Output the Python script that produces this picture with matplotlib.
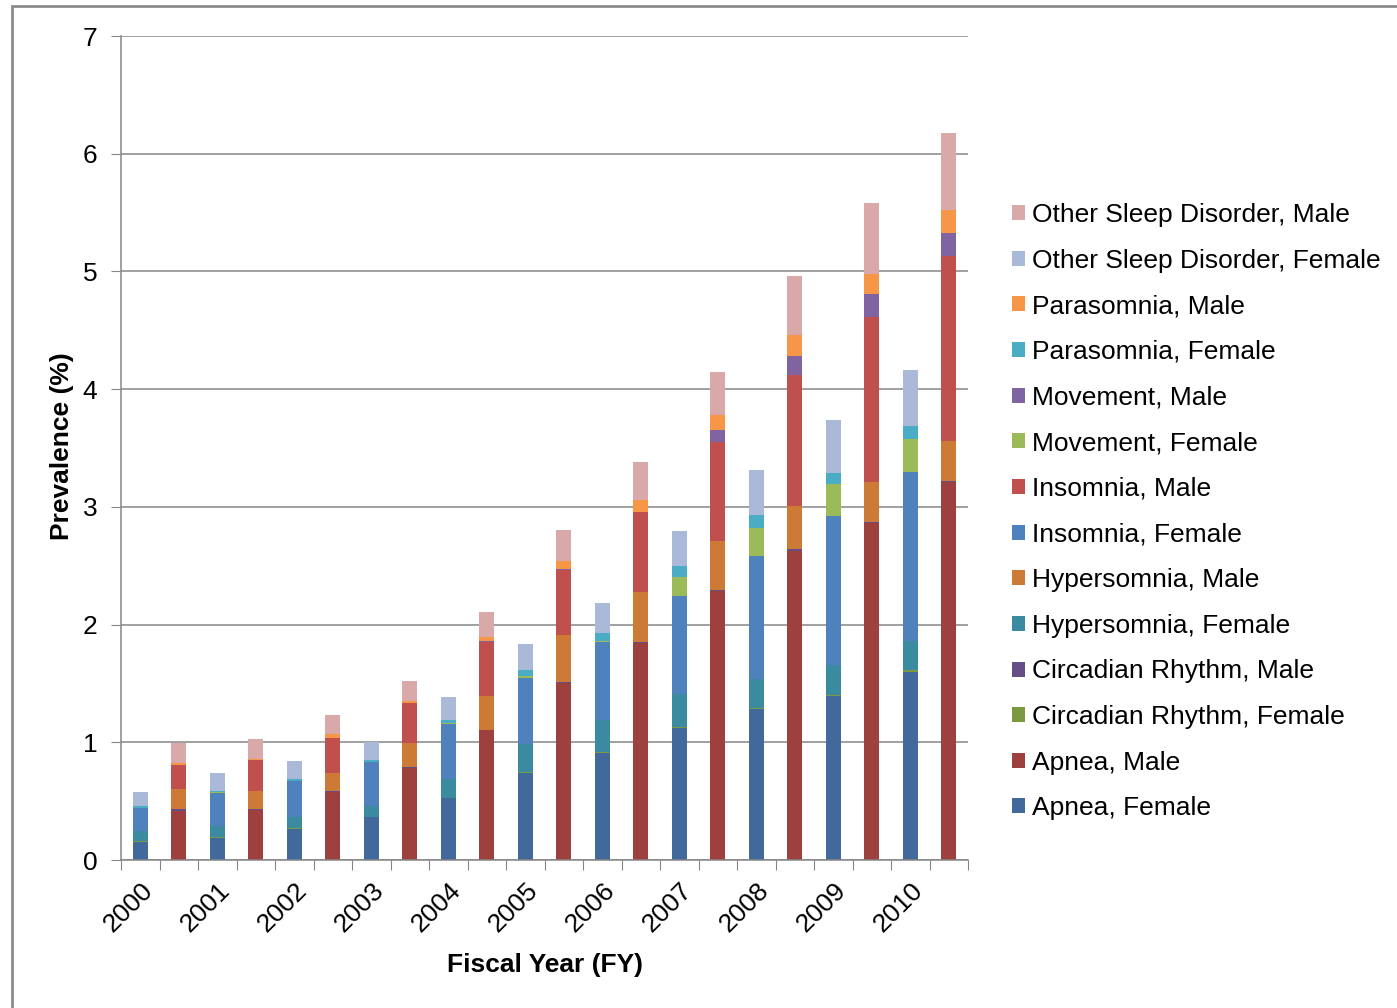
import matplotlib
matplotlib.use("Agg")
import matplotlib.pyplot as plt
import matplotlib.patches as mpatches
from matplotlib.ticker import FixedLocator, NullFormatter
import numpy as np

plt.rcParams['font.family'] = ['Liberation Sans', 'DejaVu Sans']

years = ["2000", "2001", "2002", "2003", "2004", "2005",
         "2006", "2007", "2008", "2009", "2010"]

# Prevalence (%) by fiscal year, female patients
apnea_f      = [0.156, 0.187, 0.266, 0.362, 0.524, 0.742, 0.906, 1.121, 1.280, 1.395, 1.600]
circadian_f  = [0.005, 0.010, 0.005, 0.005, 0.005, 0.005, 0.008, 0.008, 0.010, 0.010, 0.010]
hyper_f      = [0.083, 0.089, 0.091, 0.094, 0.156, 0.236, 0.273, 0.279, 0.248, 0.252, 0.251]
insomnia_f   = [0.195, 0.286, 0.309, 0.369, 0.473, 0.566, 0.665, 0.838, 1.046, 1.262, 1.431]
movement_f   = [0.005, 0.003, 0.003, 0.005, 0.005, 0.012, 0.011, 0.161, 0.237, 0.276, 0.281]
parasomnia_f = [0.015, 0.008, 0.011, 0.015, 0.026, 0.050, 0.068, 0.091, 0.111, 0.095, 0.113]
other_f      = [0.121, 0.153, 0.153, 0.153, 0.196, 0.221, 0.250, 0.300, 0.377, 0.445, 0.478]

# Prevalence (%) by fiscal year, male patients
apnea_m      = [0.416, 0.428, 0.580, 0.784, 1.102, 1.504, 1.841, 2.285, 2.629, 2.862, 3.207]
circadian_m  = [0.015, 0.005, 0.005, 0.005, 0.005, 0.008, 0.008, 0.008, 0.010, 0.010, 0.015]
hyper_m      = [0.169, 0.156, 0.157, 0.202, 0.286, 0.397, 0.428, 0.421, 0.368, 0.343, 0.339]
insomnia_m   = [0.207, 0.261, 0.292, 0.340, 0.459, 0.555, 0.677, 0.835, 1.112, 1.395, 1.572]
movement_m   = [0.003, 0.003, 0.003, 0.003, 0.005, 0.010, 0.006, 0.100, 0.162, 0.197, 0.197]
parasomnia_m = [0.017, 0.008, 0.031, 0.017, 0.035, 0.066, 0.101, 0.135, 0.176, 0.173, 0.188]
other_m      = [0.164, 0.164, 0.164, 0.167, 0.212, 0.261, 0.318, 0.364, 0.500, 0.603, 0.655]

# Stacking order (bottom to top): label, values, sex, colour
series = [
    ("Apnea, Female", apnea_f, "F", "#41699B"),
    ("Apnea, Male", apnea_m, "M", "#9E403E"),
    ("Circadian Rhythm, Female", circadian_f, "F", "#7A9A42"),
    ("Circadian Rhythm, Male", circadian_m, "M", "#654E88"),
    ("Hypersomnia, Female", hyper_f, "F", "#3A8AA0"),
    ("Hypersomnia, Male", hyper_m, "M", "#CC7A36"),
    ("Insomnia, Female", insomnia_f, "F", "#4F81BD"),
    ("Insomnia, Male", insomnia_m, "M", "#C0504D"),
    ("Movement, Female", movement_f, "F", "#9BBB59"),
    ("Movement, Male", movement_m, "M", "#8064A2"),
    ("Parasomnia, Female", parasomnia_f, "F", "#4BACC6"),
    ("Parasomnia, Male", parasomnia_m, "M", "#F79646"),
    ("Other Sleep Disorder, Female", other_f, "F", "#AAB9D8"),
    ("Other Sleep Disorder, Male", other_m, "M", "#D9A9A9"),
]

n_years = len(years)
x_f = np.arange(n_years) * 2        # female bar of each year
x_m = np.arange(n_years) * 2 + 1    # male bar of each year

fig = plt.figure(figsize=(13.97, 10.08), dpi=100)
ax = fig.add_axes([121 / 1397, 1 - 860 / 1008, (968 - 121) / 1397, (860 - 36) / 1008])

bottom_f = np.zeros(n_years)
bottom_m = np.zeros(n_years)
handles = []
width = 0.4
for label, vals, sex, color in series:
    vals = np.asarray(vals)
    if sex == "F":
        b = ax.bar(x_f, vals, width, bottom=bottom_f, color=color, label=label,
                   linewidth=0)
        bottom_f += vals
    else:
        b = ax.bar(x_m, vals, width, bottom=bottom_m, color=color, label=label,
                   linewidth=0)
        bottom_m += vals
    handles.append(b)

grid_c = "#868686"
ax.set_ylim(0, 7)
ax.set_xlim(-0.5, 2 * n_years - 0.5)
ax.set_yticks(np.arange(0, 8, 1))
ax.yaxis.grid(True, color=grid_c, linewidth=1.1)
ax.set_axisbelow(True)
for s in ("top", "right"):
    ax.spines[s].set_visible(False)
for s in ("left", "bottom"):
    ax.spines[s].set_color(grid_c)
    ax.spines[s].set_linewidth(1.1)

ax.tick_params(axis="y", direction="out", length=7, color=grid_c, labelsize=19, pad=10)
ax.xaxis.set_major_locator(FixedLocator(np.arange(-0.5, 2 * n_years, 1)))
ax.xaxis.set_major_formatter(NullFormatter())
ax.tick_params(axis="x", which="major", direction="out", length=7, color=grid_c)
ax.set_xticks(x_f, minor=True)
ax.set_xticklabels(years, minor=True, rotation=45, ha="right",
                   rotation_mode="anchor", fontsize=19)
ax.tick_params(axis="x", which="minor", length=0, pad=13)

fig.text(62 / 1397, 1 - 446 / 1008, "Prevalence (%)", rotation=90,
         ha="center", va="center", fontsize=19, fontweight="bold")
fig.text(545 / 1397, 1 - 965 / 1008, "Fiscal Year (FY)",
         ha="center", va="center", fontsize=19, fontweight="bold")

leg = fig.legend(handles[::-1], [s[0] for s in series][::-1],
                 loc="upper left", bbox_to_anchor=(1012 / 1397, 1 - 203 / 1008),
                 frameon=False, fontsize=19, handlelength=0.5, handleheight=0.5,
                 handletextpad=0.25, labelspacing=0.82, borderaxespad=0, borderpad=0)

# Outer chart border
fig.patches.append(mpatches.Rectangle((12 / 1397, -0.1), 1.2, 1 - 6 / 1008 + 0.1,
                                      transform=fig.transFigure, fill=False,
                                      edgecolor="#8C8C8C", linewidth=2))

fig.savefig("out.png", dpi=100)
